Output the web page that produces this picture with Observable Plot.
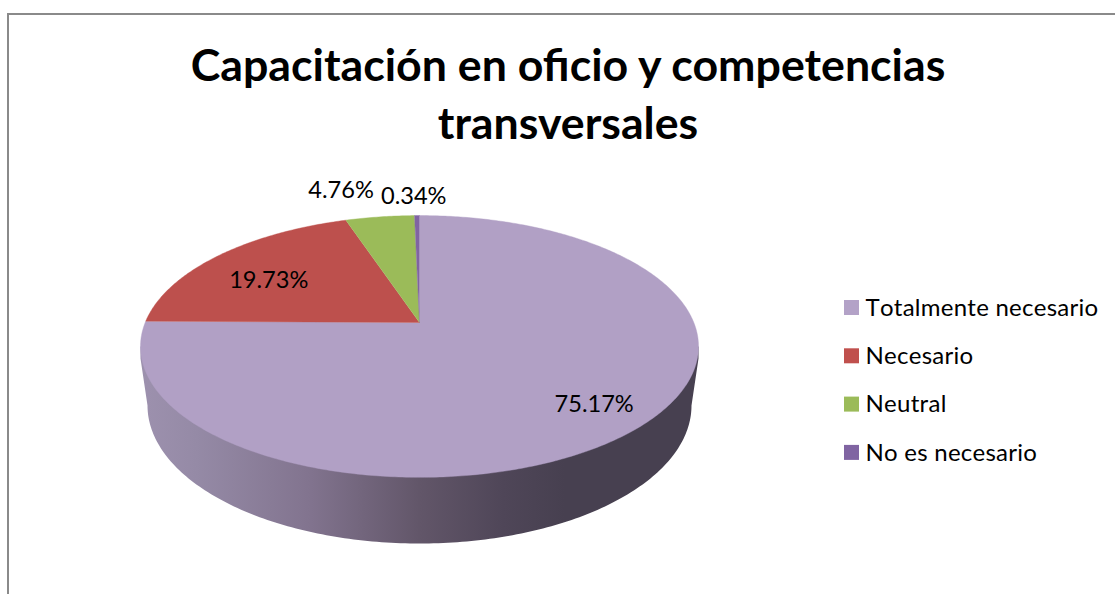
<!DOCTYPE html>
<html>
<head>
<meta charset="utf-8">
<script src="https://cdn.jsdelivr.net/npm/d3@7"></script>
<script src="https://cdn.jsdelivr.net/npm/@observablehq/plot@0.6"></script>
<style>
html,body{margin:0;padding:0;background:#fff;}
svg{display:block;}
.legend-label text{letter-spacing:0.25px;font-kerning:none;}
</style>
</head>
<body>
<div id="chart"></div>
<script>
const titleLines = ["Capacitación en oficio y competencias", "transversales"];
const categories = ["Totalmente necesario", "Necesario", "Neutral", "No es necesario"];
const shares = [75.17, 19.73, 4.76, 0.34];
const colors = ["#b1a0c5", "#bd504d", "#9bbb59", "#8064a2"];
const swatchColors = ["#b3a2c7", "#c0504d", "#9bbb59", "#8064a2"];

const W = 1115, H = 594;
const FONT = "Lato, Carlito, sans-serif";

// perspective disc projection: u, v on the unit circle -> picture plane
const cx = 419, pivotY = 322, persp = 0.183, tiltA = -67.6, spread = 274.3;
function project(theta, r = 1) {
  const u = r * Math.sin(theta), v = r * Math.cos(theta), w = 1 + persp * v;
  return {x: cx + spread * u / w, y: (tiltA * v + pivotY) / w};
}

// slices built from the shares
const total = d3.sum(shares);
const sliceRows = [];
const labelRows = [];
const labelRadius = [0.81, 0.75, 1.15, 1.15];
const labelDx = [0, 3, -34, -3];
const labelDy = [1, 10, -13, -6];
let acc = 0;
categories.forEach((category, i) => {
  const a0 = acc / total * 2 * Math.PI;
  acc += shares[i];
  const a1 = acc / total * 2 * Math.PI;
  const steps = Math.max(2, Math.ceil((a1 - a0) * 90));
  sliceRows.push({category, ...project(0, 0)});
  for (let k = 0; k <= steps; k++) {
    sliceRows.push({category, ...project(a0 + (a1 - a0) * k / steps)});
  }
  const m = project((a0 + a1) / 2, labelRadius[i]);
  labelRows.push({x: m.x + labelDx[i], y: m.y + labelDy[i], text: d3.format(".2f")(shares[i]) + "%"});
});

// side wall: outer rim of the top disc and a lower, narrower ellipse
const wallCy = 405, wallRx = 272, wallRy = 138;
const wallRows = [];
const rimCy = 346, rimRx = 279;
for (let k = 0; k <= 180; k++) {
  const t = Math.PI * k / 180;
  wallRows.push({x: cx - wallRx * Math.cos(t), y: wallCy + wallRy * Math.sin(t)});
}
wallRows.push({x: cx + rimRx, y: rimCy + 12});
wallRows.push({x: cx + rimRx, y: rimCy});
wallRows.push({x: cx - rimRx, y: rimCy});
wallRows.push({x: cx - rimRx, y: rimCy + 12});

const gradient = () => {
  const ns = "http://www.w3.org/2000/svg";
  const defs = document.createElementNS(ns, "defs");
  const g = document.createElementNS(ns, "linearGradient");
  g.setAttribute("id", "wall");
  [[0, "#9d91ae"], [0.1, "#958aa6"], [0.3, "#82748f"], [0.5, "#625669"], [0.65, "#4f4658"], [0.76, "#474050"], [1, "#474050"]]
    .forEach(([o, c]) => {
      const s = document.createElementNS(ns, "stop");
      s.setAttribute("offset", o);
      s.setAttribute("stop-color", c);
      g.appendChild(s);
    });
  defs.appendChild(g);
  return defs;
};

const legendRows = categories.map((category, i) => ({category, i}));
const legendY = i => 307.5 + i * 48.3;

const chart = Plot.plot({
  width: W, height: H,
  margin: 0,
  style: {background: "#fff", fontFamily: FONT},
  x: {domain: [0, W], range: [0, W], axis: null},
  y: {domain: [0, H], range: [0, H], axis: null},
  color: {domain: categories, range: colors},
  marks: [
    gradient,
    Plot.ruleX([7.5], {y1: 13, y2: H, stroke: "#8a8a8a", strokeWidth: 2}),
    Plot.ruleY([13.5], {x1: 7, x2: W, stroke: "#8a8a8a", strokeWidth: 2}),
    Plot.line(wallRows, {x: "x", y: "y", fill: "url(#wall)", stroke: "none"}),
    Plot.line(sliceRows, {x: "x", y: "y", z: "category", fill: "category", stroke: "category", strokeWidth: 0.4, curve: "linear"}),
    Plot.text(titleLines, {
      x: 567.5, y: (d, i) => 66 + i * 58, text: d => d,
      fontSize: 44.7, fontWeight: 700, fill: "#000", textAnchor: "middle", lineAnchor: "middle"
    }),
    Plot.text(labelRows, {x: "x", y: "y", text: "text", fontSize: 23.6, fill: "#000", textAnchor: "middle", lineAnchor: "middle"}),
    Plot.rect(legendRows, {
      x1: () => 844, x2: () => 859,
      y1: d => legendY(d.i) - 7.5, y2: d => legendY(d.i) + 7.5,
      fill: (d) => swatchColors[d.i]
    }),
    Plot.text(legendRows, {
      x: () => 865, y: d => legendY(d.i), text: "category",
      fontSize: 24, fill: "#000", textAnchor: "start", lineAnchor: "middle", className: "legend-label"
    })
  ]
});
document.getElementById("chart").appendChild(chart);
</script>
</body>
</html>
